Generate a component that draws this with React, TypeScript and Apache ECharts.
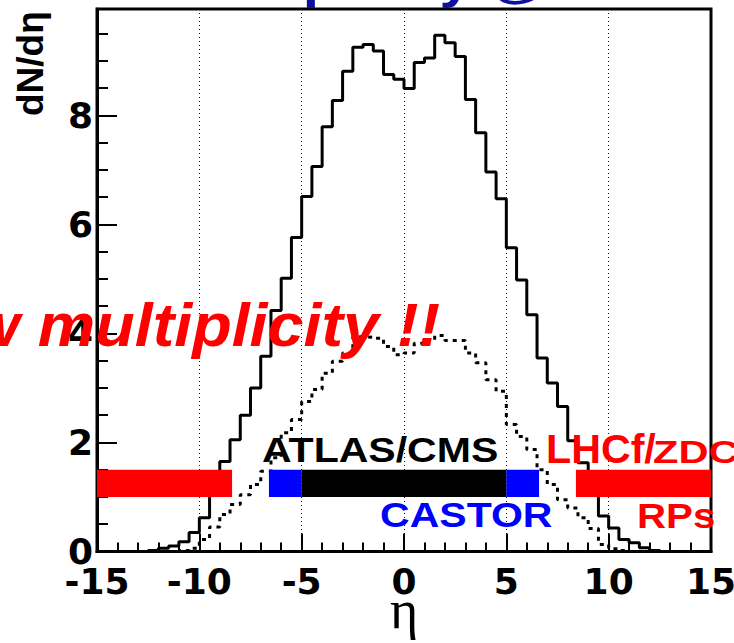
import React, { useEffect, useRef } from "react";
import * as echarts from "echarts";

// ---- data ----
const ETA_MIN = -15;
const ETA_MAX = 15;
const BIN_WIDTH = 0.5;

// dN/deta per 0.5-wide eta bin, from -15 to 15 (60 bins)
const solidValues = [
  0, 0, 0, 0, 0, 0.02, 0.06, 0.1, 0.18, 0.35,
  0.62, 1.15, 1.65, 2.05, 2.5, 3.0, 3.58, 4.42, 5.01, 5.76,
  6.51, 7.06, 7.79, 8.27, 8.81, 9.25, 9.3, 9.18, 8.75, 8.66,
  8.49, 8.97, 9.05, 9.47, 9.33, 9.08, 8.29, 7.68, 6.96, 6.47,
  5.57, 4.98, 4.34, 3.55, 3.09, 2.66, 2.03, 1.63, 1.1, 0.65,
  0.43, 0.22, 0.16, 0.07, 0.02, 0, 0, 0, 0, 0,
];

const dottedValues = [
  0, 0, 0, 0, 0, 0, 0, 0, 0.02, 0.06,
  0.22, 0.45, 0.68, 0.86, 1.04, 1.23, 1.47, 1.72, 2.18, 2.42,
  2.75, 2.97, 3.27, 3.49, 3.64, 3.94, 3.93, 3.91, 3.76, 3.61,
  3.64, 3.82, 3.88, 3.96, 3.87, 3.87, 3.64, 3.46, 3.15, 2.94,
  2.33, 2.11, 1.87, 1.5, 1.23, 0.95, 0.8, 0.62, 0.42, 0.13,
  0.05, 0.02, 0, 0, 0, 0, 0, 0, 0, 0,
];

// detector coverage bars (eta ranges)
const detectorNames = ["RPs/ZDC (-)", "CASTOR (-)", "ATLAS/CMS", "CASTOR (+)", "LHCf/ZDC/RPs (+)"];
const detectorStart = [-15, -6.6, -5, 5, 8.4];
const detectorEnd = [-8.4, -5, 5, 6.6, 15];
const detectorColors = ["#ff0000", "#0000ff", "#000000", "#0000ff", "#ff0000"];
const detectorBand = [1.0, 1.5];

const Y_MAX = 9.95;

function toSteps(values: number[]): number[][] {
  const pts = values.map((v, i) => [ETA_MIN + i * BIN_WIDTH, v]);
  pts.push([ETA_MIN + values.length * BIN_WIDTH, values[values.length - 1]]);
  return pts;
}

const SANS = "'Liberation Sans', Arial, Helvetica, sans-serif";
const TICK_FONT = "'DejaVu Sans', sans-serif";

export default function App() {
  const ref = useRef<HTMLDivElement>(null);

  useEffect(() => {
    if (!ref.current) return;
    const chart = echarts.init(ref.current, undefined, { renderer: "svg" });

    const detectorData = detectorNames.map((n, i) => ({
      name: n,
      value: [detectorStart[i], detectorEnd[i], detectorBand[0], detectorBand[1]],
      itemStyle: { color: detectorColors[i] },
    }));

    const option: any = {
      animation: false,
      backgroundColor: "#ffffff",
      grid: {
        left: 97,
        right: 23,
        top: 9,
        bottom: 91.5,
        containLabel: false,
        outerBoundsMode: "none",
        show: true,
        borderColor: "#000",
        borderWidth: 3,
        backgroundColor: "transparent",
      },
      xAxis: {
        type: "value",
        min: ETA_MIN,
        max: ETA_MAX,
        interval: 5,
        axisLine: { show: true, onZero: false, lineStyle: { color: "#000", width: 3 } },
        axisTick: { show: true, inside: true, length: 18, lineStyle: { color: "#000", width: 2 } },
        minorTick: { show: true, splitNumber: 5, length: 9, lineStyle: { color: "#000", width: 2 } },
        axisLabel: {
          margin: 12,
          color: "#000",
          fontFamily: TICK_FONT,
          fontWeight: "bold",
          fontSize: 36,
        },
        splitLine: { show: true, lineStyle: { color: "#111", width: 1, type: [1, 3] } },
        name: "η",
        nameLocation: "middle",
        nameGap: 58,
        nameMoveOverlap: false,
        nameTextStyle: {
          fontFamily: "'Liberation Serif', 'DejaVu Serif', serif",
          fontSize: 54,
          color: "#000",
          verticalAlign: "middle",
        },
      },
      yAxis: [
        {
          type: "value",
          min: 0,
          max: Y_MAX,
          interval: 2,
          position: "left",
          axisLine: { show: true, onZero: false, lineStyle: { color: "#000", width: 3 } },
          axisTick: { show: true, inside: true, length: 20, lineStyle: { color: "#000", width: 2 } },
          axisLabel: {
            showMaxLabel: false,
            margin: 4,
            color: "#000",
            fontFamily: TICK_FONT,
            fontWeight: "bold",
            fontSize: 36,
          },
          splitLine: { show: false },
        },
        {
          type: "value",
          min: 0,
          max: Y_MAX,
          interval: 0.5,
          position: "left",
          axisLine: { show: false, onZero: false },
          axisTick: { show: true, inside: true, length: 11, lineStyle: { color: "#000", width: 2 } },
          axisLabel: { show: false },
          splitLine: { show: false },
        },
      ],
      series: [
        {
          type: "line",
          name: "dN/dη",
          step: "end",
          data: toSteps(solidValues),
          showSymbol: false,
          symbol: "none",
          lineStyle: { color: "#000", width: 3 },
          z: 3,
        },
        {
          type: "line",
          name: "dN/dη (dotted)",
          step: "end",
          data: toSteps(dottedValues),
          showSymbol: false,
          symbol: "none",
          lineStyle: { color: "#000", width: 3, type: [4, 5] },
          z: 3,
        },
        {
          type: "custom",
          name: "coverage",
          z: 5,
          encode: { x: [0, 1], y: [2, 3] },
          data: detectorData,
          renderItem: (params: any, api: any) => {
            const p0 = api.coord([api.value(0), api.value(3)]);
            const p1 = api.coord([api.value(1), api.value(2)]);
            return {
              type: "rect",
              shape: { x: p0[0], y: p0[1], width: p1[0] - p0[0], height: p1[1] - p0[1] },
              style: { fill: detectorColors[params.dataIndex] },
            };
          },
        },
      ],
      graphic: [
        {
          type: "text",
          z: 100,
          x: 166,
          y: -21,
          scaleX: 1.15,
          style: {
            text: "Multiplicity @ 14 TeV",
            fill: "#1010a0",
            font: `bold 51px ${SANS}`,
            align: "left",
            verticalAlign: "middle",
          },
        },
        {
          type: "text",
          z: 100,
          x: 30,
          y: 116,
          rotation: Math.PI / 2,
          style: {
            text: "dN/dη",
            fill: "#000",
            font: `bold 37px ${SANS}`,
            align: "left",
            verticalAlign: "middle",
          },
        },
        {
          type: "text",
          z: 100,
          x: 440,
          y: 325,
          scaleX: 1.06,
          style: {
            text: "Low multiplicity !!",
            fill: "#ff0000",
            font: `italic bold 61px ${SANS}`,
            align: "right",
            verticalAlign: "middle",
          },
        },
        {
          type: "text",
          z: 100,
          x: 262,
          y: 449.5,
          scaleX: 1.14,
          style: {
            text: "ATLAS/CMS",
            fill: "#000",
            font: `bold 36px ${SANS}`,
            align: "left",
            verticalAlign: "middle",
          },
        },
        {
          type: "text",
          z: 100,
          x: 380,
          y: 514,
          scaleX: 1.14,
          style: {
            text: "CASTOR",
            fill: "#0000ff",
            font: `bold 36px ${SANS}`,
            align: "left",
            verticalAlign: "middle",
          },
        },
        {
          type: "text",
          z: 100,
          x: 546,
          y: 449,
          scaleX: 1.03,
          style: {
            text: "LHCf/",
            fill: "#ff0000",
            font: `bold 40px ${SANS}`,
            align: "left",
            verticalAlign: "middle",
          },
        },
        {
          type: "text",
          z: 100,
          x: 653,
          y: 452,
          scaleX: 1.3,
          style: {
            text: "ZDC",
            fill: "#ff0000",
            font: `bold 32px ${SANS}`,
            align: "left",
            verticalAlign: "middle",
          },
        },
        {
          type: "text",
          z: 100,
          x: 637,
          y: 516,
          scaleX: 1.15,
          style: {
            text: "RPs",
            fill: "#ff0000",
            font: `bold 35px ${SANS}`,
            align: "left",
            verticalAlign: "middle",
          },
        },
      ],
    };

    chart.setOption(option);
    return () => chart.dispose();
  }, []);

  return (
    <div
      ref={ref}
      style={{ position: "fixed", left: 0, top: 0, width: 734, height: 643, background: "#fff" }}
    />
  );
}
